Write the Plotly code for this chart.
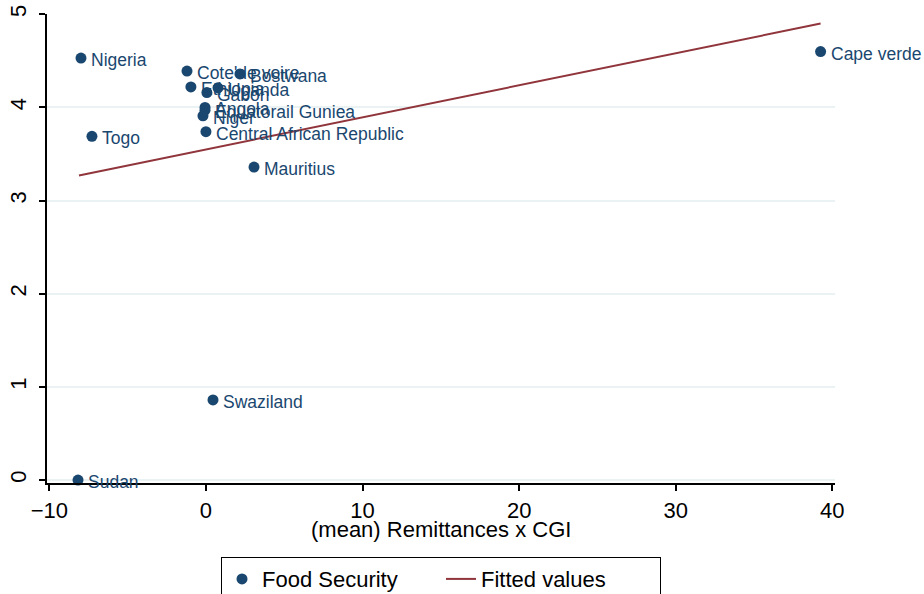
import plotly.graph_objects as go

countries = ["Nigeria", "Togo", "Sudan", "Cote'de voire", "Bostwana", "Ethiopia",
             "Uganda", "Gabon", "Angola", "Equatorail Guniea", "Niger",
             "Central African Republic", "Mauritius", "Swaziland", "Cape verde"]
remit_cgi = [-7.98, -7.28, -8.17, -1.21, 2.17, -0.96, 0.77, 0.06, -0.06, -0.06,
             -0.19, 0.0, 3.07, 0.45, 39.25]
food_sec = [4.53, 3.69, 0.0, 4.39, 4.36, 4.22, 4.21, 4.16, 4.00, 3.97, 3.91,
            3.74, 3.36, 0.86, 4.60]
fit_x = [-8.11, 39.25]
fit_y = [3.27, 4.90]

x_ticks = [-10, 0, 10, 20, 30, 40]
y_ticks = [0, 1, 2, 3, 4, 5]
x_title = "(mean) Remittances x CGI"

navy = "#1a476f"
maroon = "#90353b"
font_family = "Arial, Liberation Sans, sans-serif"

fig = go.Figure()
fig.add_trace(go.Scatter(
    x=remit_cgi, y=food_sec, mode="markers", name="Food Security",
    marker=dict(color=navy, size=11), cliponaxis=False))
fig.add_trace(go.Scatter(
    x=fit_x, y=fit_y, mode="lines", name="Fitted values",
    line=dict(color=maroon, width=2)))

for cx, cy, name in zip(remit_cgi, food_sec, countries):
    fig.add_annotation(x=cx, y=cy, text=name, showarrow=False,
                       xanchor="left", yanchor="middle", xshift=8, yshift=-2,
                       font=dict(color=navy, size=17.5, family=font_family))

fig.add_annotation(x=0.5, y=-0.1002, xref="paper", yref="paper", text=x_title,
                   showarrow=False, xanchor="center", yanchor="middle",
                   font=dict(size=22, color="black", family=font_family))

fig.update_layout(
    width=924, height=594,
    margin=dict(l=47, r=89, t=14, b=111, autoexpand=False),
    paper_bgcolor="white", plot_bgcolor="white",
    font=dict(family=font_family, color="black", size=22),
    showlegend=True,
    legend=dict(orientation="h", x=0.5, xanchor="center", y=-0.158, yanchor="top",
                bordercolor="black", borderwidth=1, bgcolor="white",
                font=dict(size=22), entrywidth=174, itemwidth=30),
    xaxis=dict(range=[-10.15, 40.17], tickvals=x_ticks, ticks="outside",
               ticklen=6, tickwidth=2, tickcolor="black",
               showline=True, linecolor="black", linewidth=2,
               showgrid=False, zeroline=False, ticklabelstandoff=1,
               ticklabeloverflow="allow", tickfont=dict(size=22)),
    yaxis=dict(range=[-0.032, 5.003], tickvals=y_ticks, ticks="outside",
               ticklen=6, tickwidth=2, tickcolor="black",
               showline=True, linecolor="black", linewidth=2,
               showgrid=True, gridcolor="#eaf2f3", gridwidth=2,
               zeroline=False, tickangle=-90, ticklabelstandoff=4,
               ticklabeloverflow="allow", tickfont=dict(size=22)),
)

fig.write_html("out.html",
               config={"displayModeBar": False},
               post_script="document.body.style.margin='0';document.body.style.overflow='hidden';")
